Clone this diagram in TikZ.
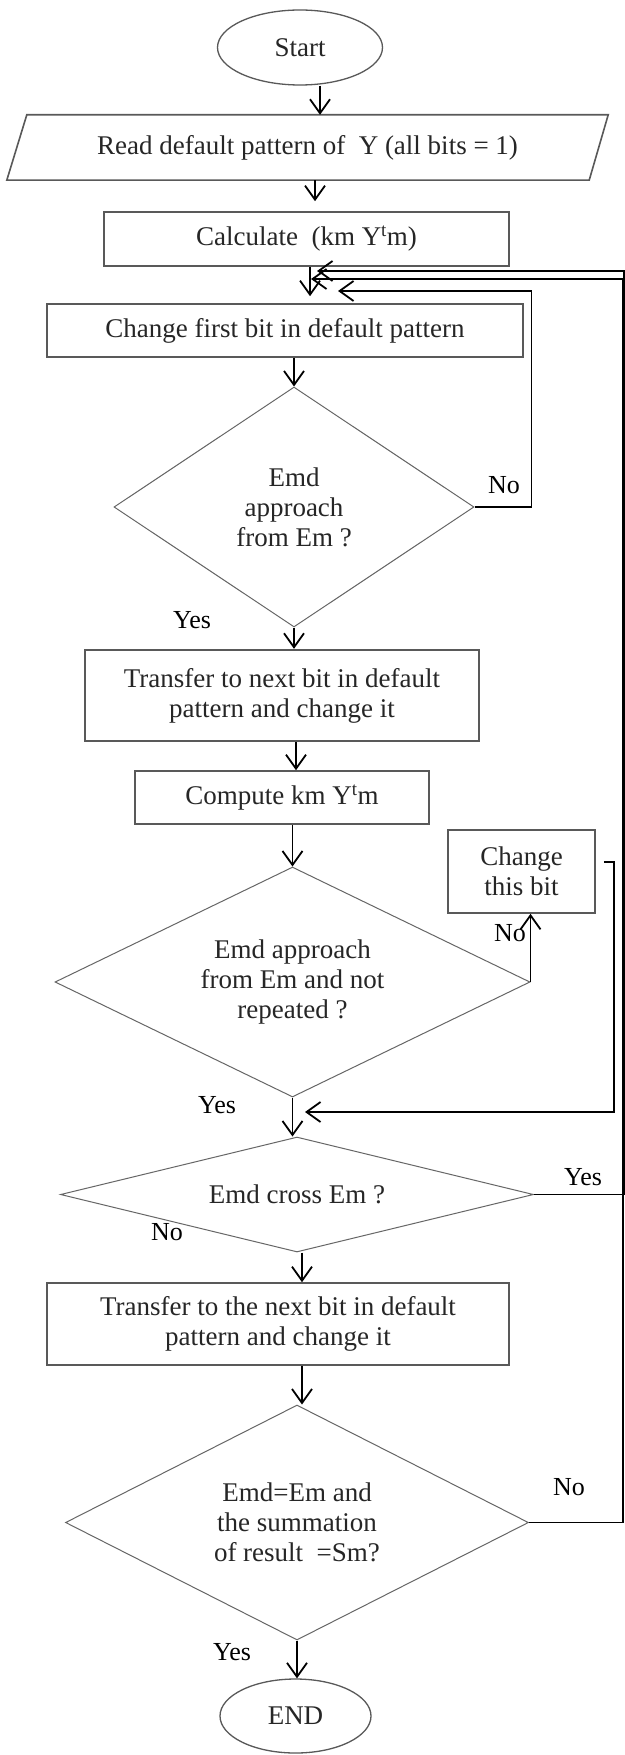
\documentclass[tikz,border=0pt]{standalone}
\usepackage{fontspec}
\setmainfont{Liberation Serif}
\usetikzlibrary{shapes.geometric,arrows.meta,calc}
\newcommand{\boxfont}{\fontsize{27}{30}\selectfont}
\newcommand{\lblfont}{\fontsize{26}{28}\selectfont}
\tikzset{
  boxs/.style={rectangle, draw=black!65, line width=1.6pt, inner sep=0pt, align=center, font=\boxfont, text=black!85},
  dia/.style={diamond, draw=black!60, line width=1pt, inner sep=0pt, align=center, font=\boxfont, text=black!85},
  ell/.style={ellipse, draw=black!65, line width=1.3pt, inner sep=0pt, font=\boxfont, text=black!85},
  boxline/.style={draw=black!65, line width=1.6pt},
  lbl/.style={font=\lblfont, inner sep=0pt, text=black},
  arr/.style={line width=1.8pt, -{Straight Barb[length=14pt,width=20pt]}},
}
\begin{document}
\begin{tikzpicture}[x=1pt,y=-1pt]
\useasboundingbox (0,0) rectangle (624,1755);
\fill[white] (0,0) rectangle (624,1755);

% nodes
\node[ell, minimum width=165pt, minimum height=75pt] (start) at (300,47.5) {Start};
\node[minimum width=582pt, minimum height=65pt, inner sep=0pt, font=\boxfont, text=black!85] (read) at (307.5,147.5) {Read default pattern of\ \ Y (all bits = 1)};
\draw[boxline] ([xshift=-9.5pt]read.south west) -- ([xshift=10.5pt]read.north west) -- ([xshift=9.5pt]read.north east) -- ([xshift=-9.5pt]read.south east) -- cycle;
\node[boxs, minimum width=405pt, minimum height=54pt] (calc) at (306.5,239) {Calculate\ \ (km Y\textsuperscript{t}m)};
\node[boxs, minimum width=476pt, minimum height=53pt] (chg) at (285,330.5) {Change first bit in default pattern};
\node[dia, minimum width=360pt, minimum height=240pt, shape aspect=1.5] (d1) at (294,507) {Emd\\approach\\from Em ?};
\node[boxs, line width=2.4pt, minimum width=394pt, minimum height=91pt] (t1) at (282,695.5) {Transfer to next bit in default\\pattern and change it};
\node[boxs, minimum width=294pt, minimum height=53pt] (cmp) at (282,797.5) {Compute km Y\textsuperscript{t}m};
\node[dia, minimum width=475pt, minimum height=230pt, shape aspect=2.07] (d2) at (292.5,982) {Emd approach\\from Em and not\\repeated ?};
\node[boxs, minimum width=147pt, minimum height=83pt] (cb) at (521.5,871.5) {Change\\this bit};
\node[dia, minimum width=473pt, minimum height=115pt, shape aspect=4.1] (d3) at (297,1194.5) {Emd cross Em ?};
\node[boxs, minimum width=462pt, minimum height=82pt] (t2) at (278,1324) {Transfer to the next bit in default\\pattern and change it};
\node[dia, minimum width=463pt, minimum height=235pt, shape aspect=2] (d4) at (297,1522.5) {Emd=Em and\\the summation\\of result\ \ =Sm?};
\node[ell, minimum width=151pt, minimum height=74pt] (end) at (295.5,1716) {END};

% labels
\node[lbl] (no1) at (504,485) {No};
\node[lbl] (yes1) at (192,620) {Yes};
\node[lbl] (no2) at (510,933) {No};
\node[lbl] (yes2) at (217,1105) {Yes};
\node[lbl] (no3) at (167,1232) {No};
\node[lbl] (yes3) at (583,1177) {Yes};
\node[lbl] (no4) at (569,1487) {No};
\node[lbl] (yes4) at (232,1652) {Yes};

% arrow tips of loop-backs
\coordinate (tipA) at (317,271);
\coordinate (tipB) at (311,279);
\coordinate (tipC) at (338,291);
\coordinate (tipD) at (305,1112);

% main flow
\draw[arr] ([xshift=20pt]start.south) -- ([xshift=12.5pt]read.north);
\draw[arr, shorten >=10pt] ([xshift=7.5pt]read.south) -- ([xshift=8.5pt]calc.north);
\draw[arr, shorten >=7pt] ([xshift=3.5pt]calc.south) -- ([xshift=25pt]chg.north);
\draw[arr] (chg.south -| d1.north) -- (d1.north);
\draw[arr] (d1.south) -- (d1.south |- t1.north);
\draw[arr] ([xshift=14pt]t1.south) -- ([xshift=14pt]cmp.north);
\draw[arr] (cmp.south -| d2.north) -- (d2.north);
\draw[arr] (d2.south) -- (d2.south |- d3.north);
\draw[arr] ([xshift=5pt]d3.south) -- ([xshift=24pt]t2.north);
\draw[arr] ([xshift=24pt]t2.south) -- ([xshift=5pt]d4.north);
\draw[arr] (d4.south) -- (d4.south |- end.north);

% side branches
\draw[arr] (d2.east) -- (d2.east |- cb.south);
\draw[arr] ([shift={(8pt,9.5pt)}]cb.east) -- ++(10,0) |- (tipD);
\draw[arr] (d1.east) -- ++(57,0) |- (tipC);
\draw[arr] (d3.east) -- ++(90,0) |- (tipA);
\draw[arr] (d4.east) -- ++(94,0) |- (tipB);
\end{tikzpicture}
\end{document}
